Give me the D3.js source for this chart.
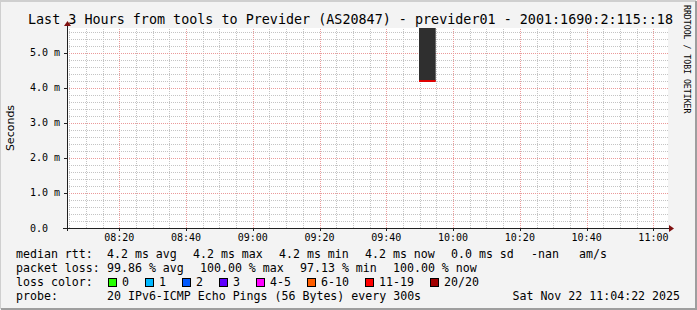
<!DOCTYPE html>
<html>
<head>
<meta charset="utf-8">
<script src="https://cdn.jsdelivr.net/npm/d3@7"></script>
<style>
  body { margin: 0; background: #f3f3f3; }
  svg { display: block; }
  text { font-family: "DejaVu Sans Mono", monospace; fill: #000; }
</style>
</head>
<body>
<div class="canvas"></div>
<script>
// Chart data
const title = 'Last 3 Hours from tools to Previder (AS20847) - previder01 - 2001:1690:2:115::18'
const timeStart = '2025-11-22T08:04:22Z'
const timeEnd = '2025-11-22T11:04:22Z'
const stepSeconds = 300
const sampleStart = ['2025-11-22T09:50:00Z']
const medianRtt = [4.2e-3]
const smokeHigh = [6.0e-3]
const lossColor = ['#e00000']
const yMax = 5.714e-3
const yMajorTicks = [0, 1e-3, 2e-3, 3e-3, 4e-3, 5e-3]

const legendRtt = ['4.2 ms avg', '4.2 ms max', '4.2 ms min', '4.2 ms now', '0.0 ms sd', '-nan', 'am/s']
const legendLoss = ['99.86 % avg', '100.00 % max', '97.13 % min', '100.00 % now']
const lossLabels = ['0', '1', '2', '3', '4-5', '6-10', '11-19', '20/20']
const lossColors = ['#26ff00', '#00b8ff', '#0059ff', '#5e00ff', '#ff00ff', '#ff5e00', '#ff0000', '#a10000']
const probeText = '20 IPv6-ICMP Echo Pings (56 Bytes) every 300s'
const stampText = 'Sat Nov 22 11:04:22 2025'

const W = 697, H = 310
const margin = {top: 28, right: 29, bottom: 82, left: 67}

const svg = d3.select('.canvas')
  .append('svg')
    .attr('width', W)
    .attr('height', H)

// background + frame
svg.append('rect').attr('width', W).attr('height', H).attr('fill', '#f3f3f3')
svg.append('path').attr('d', `M0,${H - 1}V1H${W - 1}`).attr('stroke', '#cfcfcf').attr('stroke-width', 2).attr('fill', 'none')
svg.append('path').attr('d', `M1,${H - 1}H${W - 1}V1`).attr('stroke', '#9e9e9e').attr('stroke-width', 2).attr('fill', 'none')

const parse = d3.utcParse('%Y-%m-%dT%H:%M:%SZ')
const x = d3.scaleUtc()
  .domain([parse(timeStart), parse(timeEnd)])
  .range([margin.left, W - margin.right])
const y = d3.scaleLinear()
  .domain([0, yMax])
  .range([H - margin.bottom, margin.top])

const x0 = x.range()[0], x1 = x.range()[1]
const y0 = y.range()[0], y1 = y.range()[1]

svg.append('rect')
  .attr('x', x0).attr('y', y1)
  .attr('width', x1 - x0).attr('height', y0 - y1)
  .attr('fill', '#fff')

// grid
const grid = svg.append('g').attr('shape-rendering', 'crispEdges')
const minorT = d3.utcMinute.every(5).range(...x.domain())
const majorT = d3.utcMinute.every(20).range(...x.domain())
const minorY = d3.range(1, 29).map(i => i * 0.2e-3).filter(v => v <= yMax && Math.round(v * 1e4) % 10 !== 0)

grid.selectAll('.vmin').data(minorT.filter(t => t.getUTCMinutes() % 20 !== 0))
  .enter().append('line')
    .attr('x1', d => Math.round(x(d)) + 0.5).attr('x2', d => Math.round(x(d)) + 0.5)
    .attr('y1', y0).attr('y2', y1)
    .attr('stroke', '#c4c4c4').attr('stroke-dasharray', '1,1')
grid.selectAll('.hmin').data(minorY)
  .enter().append('line')
    .attr('x1', x0).attr('x2', x1)
    .attr('y1', d => Math.round(y(d)) + 0.5).attr('y2', d => Math.round(y(d)) + 0.5)
    .attr('stroke', '#c4c4c4').attr('stroke-dasharray', '1,1')
grid.selectAll('.vmaj').data(majorT)
  .enter().append('line')
    .attr('x1', d => Math.round(x(d)) + 0.5).attr('x2', d => Math.round(x(d)) + 0.5)
    .attr('y1', y0).attr('y2', y1)
    .attr('stroke', '#eb9a9a').attr('stroke-dasharray', '1,1')
grid.selectAll('.hmaj').data(yMajorTicks.slice(1))
  .enter().append('line')
    .attr('x1', x0).attr('x2', x1)
    .attr('y1', d => Math.round(y(d)) + 0.5).attr('y2', d => Math.round(y(d)) + 0.5)
    .attr('stroke', '#eb9a9a').attr('stroke-dasharray', '1,1')

// smoke + median
const samples = sampleStart.map((s, i) => ({
  t0: parse(s),
  t1: new Date(parse(s).getTime() + stepSeconds * 1000),
  med: medianRtt[i], hi: Math.min(smokeHigh[i], yMax), col: lossColor[i]
}))
svg.selectAll('.smoke').data(samples)
  .enter().append('rect')
    .attr('x', d => Math.round(x(d.t0)) - 1).attr('width', d => x(d.t1) - x(d.t0))
    .attr('y', d => y(d.hi)).attr('height', d => y(d.med) - y(d.hi))
    .attr('fill', '#2f2f2f')
svg.selectAll('.median').data(samples)
  .enter().append('rect')
    .attr('x', d => Math.round(x(d.t0)) - 1).attr('width', d => x(d.t1) - x(d.t0))
    .attr('y', d => y(d.med) - 1).attr('height', 2)
    .attr('fill', d => d.col)

// axes
const axes = svg.append('g').attr('shape-rendering', 'crispEdges')
axes.append('line').attr('x1', x0 - 4).attr('x2', x1 + 1).attr('y1', y0 + 0.5).attr('y2', y0 + 0.5).attr('stroke', '#202020')
axes.append('line').attr('x1', x0 + 0.5).attr('x2', x0 + 0.5).attr('y1', y0 + 3).attr('y2', y1 - 3).attr('stroke', '#202020')
axes.selectAll('.yt').data(yMajorTicks)
  .enter().append('line')
    .attr('x1', x0 - 3).attr('x2', x0).attr('y1', d => Math.round(y(d)) + 0.5).attr('y2', d => Math.round(y(d)) + 0.5)
    .attr('stroke', '#202020')
axes.selectAll('.xt').data(majorT)
  .enter().append('line')
    .attr('x1', d => Math.round(x(d)) + 0.5).attr('x2', d => Math.round(x(d)) + 0.5)
    .attr('y1', y0).attr('y2', y0 + 3)
    .attr('stroke', '#202020')
svg.append('path').attr('d', `M${x1 + 1},${y0 - 3}L${x1 + 6},${y0 + 0.5}L${x1 + 1},${y0 + 4}Z`).attr('fill', '#7f1010')
svg.append('path').attr('d', `M${x0 - 3},${y1 - 2}L${x0 + 0.5},${y1 - 7}L${x0 + 4},${y1 - 2}Z`).attr('fill', '#7f1010')

// tick labels
svg.selectAll('.xl').data(majorT)
  .enter().append('text')
    .attr('x', d => x(d)).attr('y', y0 + 13)
    .attr('text-anchor', 'middle').attr('font-size', 10)
    .text(d3.utcFormat('%H:%M'))
svg.selectAll('.yl').data(yMajorTicks)
  .enter().append('text')
    .attr('x', 30).attr('y', d => y(d)).attr('dy', '0.35em')
    .attr('font-size', 10)
    .text(d => d === 0 ? '0.0' : d3.format('.1f')(d * 1e3) + ' m')

// title, axis label, watermark
svg.append('text').attr('x', 28).attr('y', 24).attr('font-size', 13.4).text(title)
svg.append('text')
  .attr('transform', `translate(14,${(y0 + y1) / 2}) rotate(-90)`)
  .attr('text-anchor', 'middle').attr('font-size', 11)
  .style('font-family', '"DejaVu Sans", sans-serif')
  .text('Seconds')
svg.append('text')
  .attr('transform', 'translate(684,5) rotate(90)')
  .attr('font-size', 8.2).attr('fill', '#b0b0b0')
  .text('RRDTOOL / TOBI OETIKER')

// legend
const lg = svg.append('g').attr('font-size', 11.6)
const rows = [257.5, 271.5, 285.5, 299.5]
const rttX = [107, 193, 279, 365, 451, 531, 579]
const lossX = [107, 200, 300, 393]
lg.append('text').attr('x', 16).attr('y', rows[0]).text('median rtt:')
lg.selectAll('.rtt').data(legendRtt).enter().append('text')
  .attr('x', (d, i) => rttX[i]).attr('y', rows[0]).text(d => d)
lg.append('text').attr('x', 16).attr('y', rows[1]).text('packet loss:')
lg.selectAll('.loss').data(legendLoss).enter().append('text')
  .attr('x', (d, i) => lossX[i]).attr('y', rows[1]).text(d => d)
lg.append('text').attr('x', 16).attr('y', rows[2]).text('loss color:')
// box positions: each box followed by its label and a fixed gap
const boxX = []
lossLabels.reduce((pos, d) => { boxX.push(pos); return pos + 30 + 7 * d.length }, 108)
lg.selectAll('.box').data(lossLabels).enter().append('rect')
  .attr('x', (d, i) => boxX[i] + 0.5).attr('y', 278.5)
  .attr('width', 8).attr('height', 8)
  .attr('fill', (d, i) => lossColors[i]).attr('stroke', '#000')
lg.selectAll('.bl').data(lossLabels).enter().append('text')
  .attr('x', (d, i) => boxX[i] + 14).attr('y', rows[2]).text(d => d)
lg.append('text').attr('x', 16).attr('y', rows[3]).text('probe:')
lg.append('text').attr('x', 107).attr('y', rows[3]).text(probeText)
lg.append('text').attr('x', 680).attr('y', rows[3]).attr('text-anchor', 'end').text(stampText)
</script>
</body>
</html>
